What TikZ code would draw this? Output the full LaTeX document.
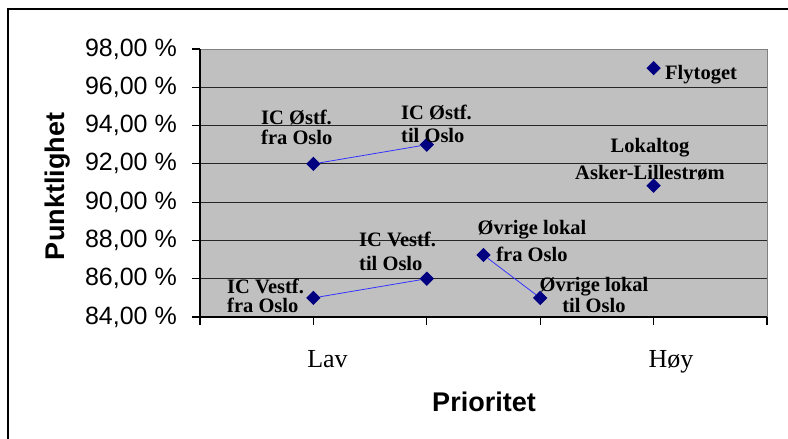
\documentclass[tikz,border=0pt]{standalone}
\usepackage{fontspec}
\setmainfont{Liberation Serif}
\setsansfont{Liberation Sans}
\usetikzlibrary{shapes.geometric}
\definecolor{plotgray}{RGB}{192,192,192}
\definecolor{markblue}{RGB}{0,0,128}
\definecolor{lineblue}{RGB}{51,51,255}
\definecolor{framegray}{RGB}{128,128,128}
\begin{document}
\begin{tikzpicture}[x=1pt, y=-1pt,
    point/.style={diamond, fill=markblue, inner sep=0pt, minimum
      size=14.5pt},
    lbl/.style={font=\fontsize{20.5}{18}\selectfont\bfseries, inner
      sep=0pt},
    ylbl/.style={font=\sffamily\fontsize{25}{25}\selectfont, anchor=east,
      inner sep=0pt},
    cat/.style={font=\fontsize{26}{26}\selectfont, anchor=base, inner
      sep=0pt},
    axtitle/.style={font=\sffamily\bfseries\fontsize{27}{27}\selectfont,
      anchor=base, inner sep=0pt}]
    \useasboundingbox (0,0) rectangle (788,439);
    \clip (0,0) rectangle (788,439);
    \draw [line width=1.3pt] (8,9) rectangle (800,450);

    \fill [plotgray] (200,49) rectangle (767,317);
    \foreach \i in {1,...,6} \draw [line width=1.2pt, black!85]
      (200,{317-\i*38.286}) -- (767,{317-\i*38.286});
    \draw [framegray, line width=1pt] (200,49) -- (767,49) -- (767,317);
    \draw [line width=1.2pt] (200,49) -- (200,317) -- (767,317);
    \foreach \i/\v in {0/84,1/86,2/88,3/90,4/92,5/94,6/96,7/98} {
      \draw [line width=1.2pt] (192,{317-\i*38.286}) -- ++(8,0);
      \node [ylbl] (y\v) at (177,{317-\i*38.286}) {\v,00 \%};
    }
    \foreach \i in {0,...,5} \draw [line width=1.2pt]
      ({200+\i*113.4},317) -- ++(0,8);

    \node [cat] (lav) at (327.5,367) {Lav};
    \node [cat] (hoy) at (671,367.5) {Høy};
    \node [axtitle] (xtitle) at (484,411.5) {Prioritet};
    \node [axtitle, rotate=90] (ytitle) at (64.5,186.5) {Punktlighet};

    \begin{scope}[every node/.style={point}]
      \node (ostfra) at (313.4,163.9) {}; \node (osttil) at
      (426.8,144.7) {}; \node (vestfra) at (313.4,297.9) {};
      \node (vesttil) at (426.8,278.7) {}; \node (ovrfra) at
      (483.5,255) {}; \node (ovrtil) at (540.2,297.9) {};
      \node (fly) at (653.6,68.1) {}; \node (lok) at (653.6,185.7) {};
    \end{scope}
    \begin{scope}[lineblue, line width=0.8pt]
      \draw (ostfra) -- (osttil); \draw (vestfra) -- (vesttil);
      \draw (ovrfra) -- (ovrtil);
    \end{scope}

    \begin{scope}[every node/.style={lbl}]
      \node [anchor=base west, align=left] (lostfra) at (261,144)
      {IC Østf.\\[2pt]fra Oslo}; \node [anchor=base west, align=left]
      (losttil) at (401,142) {IC Østf.\\[5pt]til Oslo};
      \node [anchor=base west, align=left] (lvestfra) at (227,312)
      {IC Vestf.\\[1pt]fra Oslo}; \node [anchor=base west, align=left]
      (lvesttil) at (359,270) {IC Vestf.\\[6pt]til Oslo};
      \node [anchor=base, align=center] (lovrfra) at (532,261)
      {Øvrige lokal\\[7pt]fra Oslo}; \node [anchor=base, align=center]
      (lovrtil) at (594,312) {Øvrige lokal\\[1pt]til Oslo};
      \node [anchor=base west] (lfly) at (665,79) {Flytoget};
      \node [anchor=base, align=center] (llok) at (650,179)
      {Lokaltog\\[7pt]Asker-Lillestrøm};
    \end{scope}
  \end{tikzpicture}
\end{document}
